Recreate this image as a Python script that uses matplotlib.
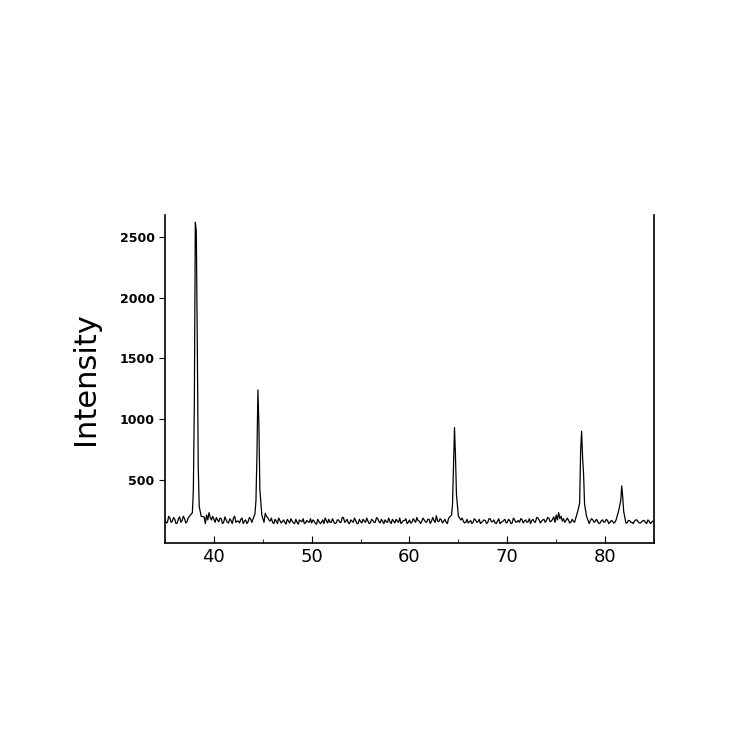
import matplotlib
matplotlib.use("Agg")
import matplotlib.pyplot as plt
from matplotlib.ticker import MultipleLocator

# Baseline scan, 0.25 deg step from 35.0
base_start = 35.0
base_step = 0.25
base_vals = [
 170,150,185,160,175,145,195,165,180,155,200,170,160,185,150,175,195,210,230,170,
 175,190,155,180,150,170,145,165,185,150,160,175,140,170,155,180,150,165,200,175,
 210,225,190,160,150,175,140,165,155,150,175,145,160,140,150,170,155,140,165,150,
 145,160,135,155,150,140,165,175,150,155,145,170,150,190,160,145,170,150,165,140,
 155,175,150,160,145,165,150,180,145,160,170,150,155,175,145,160,185,150,165,140,
 170,150,165,190,160,155,170,150,175,160,165,205,155,170,160,150,185,165,200,175,
 190,170,160,150,145,165,150,170,155,140,160,165,150,180,155,145,160,140,155,175,
 150,165,145,170,155,150,175,160,150,180,165,155,190,170,160,175,165,185,160,195,
 210,230,200,180,165,170,150,160,175,150,165,180,155,200,165,170,160,155,145,170,
 155,165,150,160,150,145,160,150,155,145,165,150,160,170,145,155,165,140,160,150,
 155,
]
# Intermediate readings, 0.25 deg step from 35.125
mid_vals = [
 145,200,150,190,140,180,150,200,145,185,160,140,195,150,180,160,140,170,190,200,
 150,170,185,140,195,150,180,140,200,160,145,185,160,140,190,150,175,145,185,160,
 150,200,170,185,140,160,185,145,170,135,160,180,145,175,135,160,180,145,155,180,
 170,140,175,140,170,185,145,150,180,140,170,150,190,150,175,140,160,185,140,175,
 145,160,185,140,175,150,190,155,175,140,155,185,140,160,175,150,140,165,180,150,
 145,180,150,165,140,185,155,175,140,190,150,160,180,145,175,140,165,150,160,145,
 160,185,145,175,155,140,180,150,175,150,170,140,180,155,170,140,180,150,165,145,
 175,140,185,150,165,180,145,170,155,140,175,150,185,145,170,150,190,155,175,150,
 170,180,160,150,185,145,175,150,190,140,175,150,185,140,180,150,175,140,165,150,
 175,140,165,145,170,155,140,175,145,165,150,140,170,155,145,165,150,170,140,160,
]
# Peak profile points (2theta, intensity)
peak_x = [37.8, 37.9, 38.0, 38.1, 38.2, 38.3, 38.4, 38.5, 38.7,
          44.2, 44.3, 44.4, 44.5, 44.6, 44.7, 44.9,
          64.3, 64.4, 64.5, 64.6, 64.7, 64.8, 65.0,
          77.2, 77.4, 77.5, 77.6, 77.7, 77.8, 77.9, 78.1,
          81.4, 81.6, 81.7, 81.8, 81.9]
peak_y = [230, 420, 1130, 2620, 2550, 1650, 600, 280, 200,
          220, 330, 700, 1240, 950, 420, 210,
          210, 300, 620, 930, 700, 380, 200,
          240, 310, 750, 900, 680, 550, 300, 200,
          250, 330, 450, 360, 240]

xs = [base_start + i * base_step for i in range(len(base_vals))]
xm = [base_start + base_step / 2 + i * base_step for i in range(len(mid_vals))]
allb = list(zip(xs, base_vals)) + list(zip(xm, mid_vals))
pts = sorted([(x, y) for x, y in allb
              if not any(abs(x - px) < 0.22 for px in peak_x)] + list(zip(peak_x, peak_y)))
x = [p[0] for p in pts]
y = [p[1] for p in pts]

fig = plt.figure(figsize=(7.5, 7.5), dpi=100)
ax = fig.add_axes([165/750, 1-543/750, (654-165)/750, (543-215)/750])
ax.plot(x, y, color="black", lw=0.9)
ax.set_xlim(35, 85)
ax.set_ylim(-20, 2680)
ax.spines["top"].set_visible(False)
for s in ax.spines.values():
    s.set_linewidth(1.2)
ax.set_xticks([40, 50, 60, 70, 80])
ax.xaxis.set_minor_locator(MultipleLocator(5))
ax.set_yticks([500, 1000, 1500, 2000, 2500])
ax.tick_params(axis="x", direction="in", labelsize=13, length=5)
ax.tick_params(axis="x", which="minor", direction="in", length=3)
ax.tick_params(axis="y", direction="out", labelsize=9, length=4)
for lab in ax.get_yticklabels():
    lab.set_fontweight("bold")
ax.set_ylabel("Intensity", fontsize=22, labelpad=14)
fig.savefig("out.png", dpi=100)
